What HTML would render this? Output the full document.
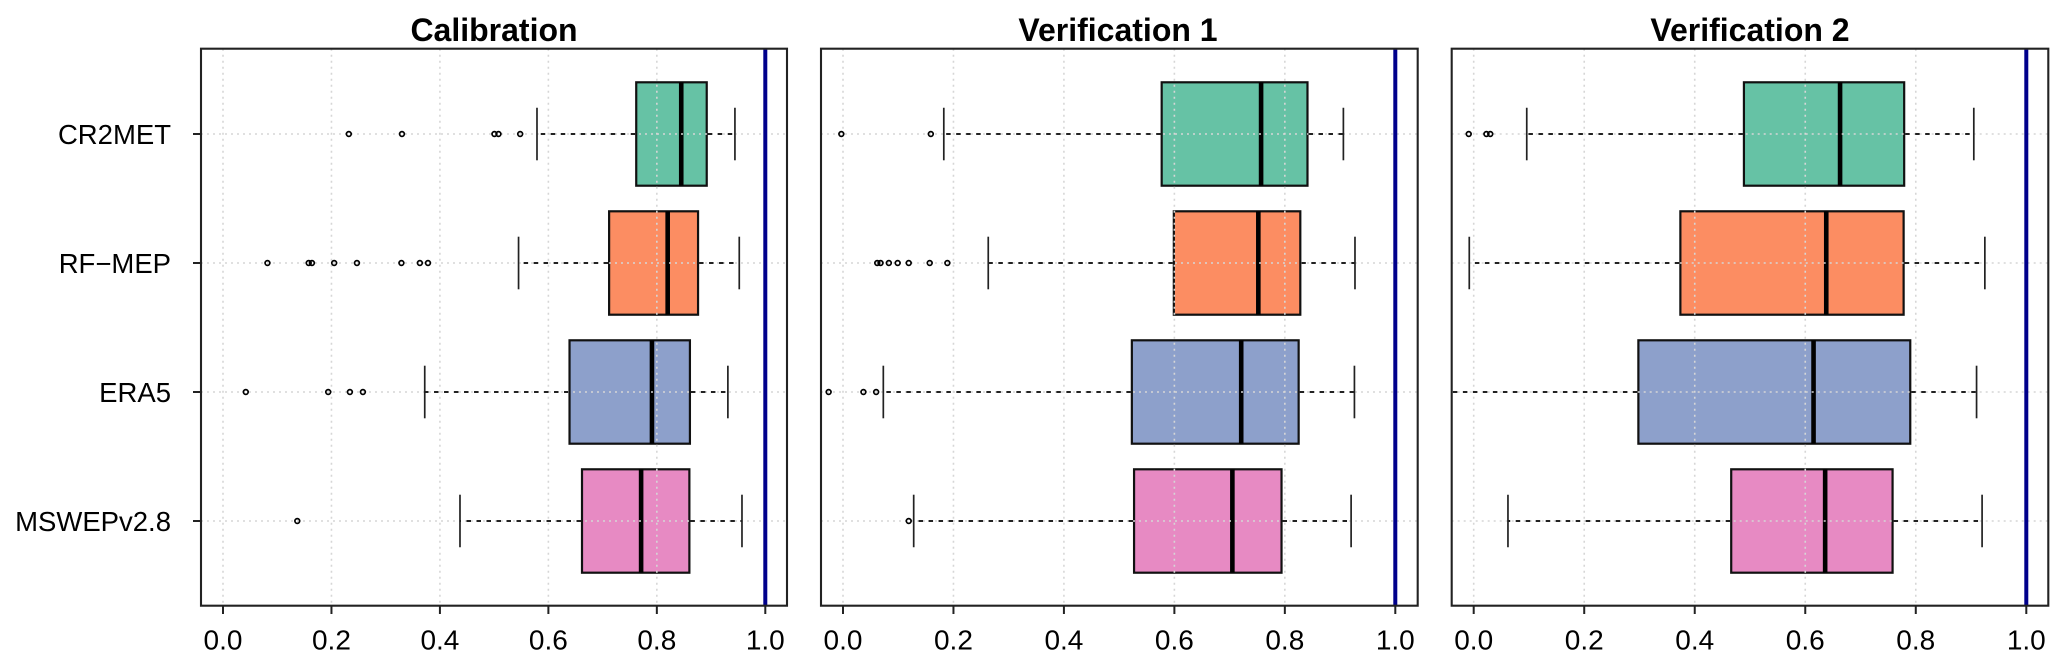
<!DOCTYPE html>
<html lang="en">
<head>
<meta charset="utf-8">
<title>Boxplots: Calibration, Verification 1, Verification 2</title>
<style>
  html, body { margin: 0; padding: 0; background: #fff; }
  body { width: 2067px; height: 667px; overflow: hidden; }
  svg { display: block; font-family: "Liberation Sans", Arial, sans-serif; }
  .title { font-size: 32px; font-weight: bold; text-anchor: middle; fill: #000; }
  .tick-label { font-size: 28px; fill: #000; }
  .category-label { font-size: 27.5px; fill: #000; }
</style>
</head>
<body>
<svg id="chart" xmlns="http://www.w3.org/2000/svg" width="2067" height="667" viewBox="0 0 2067 667">
  <rect x="0" y="0" width="2067" height="667" fill="#ffffff"/>
  <text class="title" x="494" y="41">Calibration</text>
  <text class="title" x="1118" y="41">Verification 1</text>
  <text class="title" x="1750" y="41">Verification 2</text>
</svg>
<script>
// ---- Data ----
const categories = ["CR2MET", "RF\u2212MEP", "ERA5", "MSWEPv2.8"];
const categoryColors = ["#66C2A5", "#FC8D62", "#8DA0CB", "#E78AC3"];
const xTicks = [0, 0.2, 0.4, 0.6, 0.8, 1.0];
const xTickLabels = ["0.0", "0.2", "0.4", "0.6", "0.8", "1.0"];
const referenceValue = 1.0;

const calWhiskerLow  = [0.579, 0.545, 0.372, 0.437];
const calQ1          = [0.762, 0.712, 0.639, 0.662];
const calMedian      = [0.845, 0.820, 0.791, 0.771];
const calQ3          = [0.892, 0.876, 0.861, 0.860];
const calWhiskerHigh = [0.944, 0.952, 0.931, 0.957];
const calOutliers = [
  [0.232, 0.330, 0.5005, 0.508, 0.548],
  [0.082, 0.158, 0.164, 0.205, 0.247, 0.329, 0.363, 0.378],
  [0.042, 0.194, 0.234, 0.258],
  [0.137]
];

const ver1WhiskerLow  = [0.1825, 0.263, 0.073, 0.128];
const ver1Q1          = [0.577, 0.599, 0.523, 0.527];
const ver1Median      = [0.757, 0.752, 0.721, 0.705];
const ver1Q3          = [0.841, 0.828, 0.825, 0.794];
const ver1WhiskerHigh = [0.906, 0.927, 0.926, 0.920];
const ver1Outliers = [
  [-0.003, 0.159],
  [0.062, 0.068, 0.083, 0.099, 0.119, 0.157, 0.189],
  [-0.026, 0.037, 0.060],
  [0.119]
];

const ver2WhiskerLow  = [0.096, -0.008, -0.05, 0.062];
const ver2Q1          = [0.489, 0.374, 0.298, 0.466];
const ver2Median      = [0.663, 0.638, 0.615, 0.636];
const ver2Q3          = [0.779, 0.778, 0.790, 0.758];
const ver2WhiskerHigh = [0.905, 0.925, 0.910, 0.920];
const ver2Outliers = [
  [-0.009, 0.023, 0.030],
  [],
  [],
  []
];

// ---- Rendering ----
const svg = document.getElementById('chart');
const NS = 'http://www.w3.org/2000/svg';

function make(tag, attrs, parent) {
  const el = document.createElementNS(NS, tag);
  for (const k in attrs) el.setAttribute(k, attrs[k]);
  (parent || svg).appendChild(el);
  return el;
}

const plotTop = 48.7;
const plotBottom = 605.7;
const firstRowY = 134;
const rowStep = 129;
const boxHalf = 51.7;
const capHalf = 26.3;

function yScale(i) { return firstRowY + rowStep * i; }

function makeXScale(frame) {
  return function (v) { return frame.zero + (frame.one - frame.zero) * v; };
}

function drawPanel(key, frame, wl, q1, med, q3, wh, outliers, showYAxis) {
  const x = makeXScale(frame);

  const clip = make('clipPath', { id: 'clip-' + key });
  make('rect', { x: frame.left, y: plotTop, width: frame.right - frame.left, height: plotBottom - plotTop }, clip);

  const g = make('g', { 'clip-path': 'url(#clip-' + key + ')' });
  
  

  // boxes and medians first, so the dotted grid sits over them
  categories.forEach(function (cat, i) {
    const y = yScale(i);
    const slug = cat.toLowerCase().replace(/[^a-z0-9]+/g, '-');

    const box = make('rect', { x: x(q1[i]), y: y - boxHalf, width: x(q3[i]) - x(q1[i]), height: boxHalf * 2, fill: categoryColors[i], stroke: '#111', 'stroke-width': 2.2 }, g);
    
    

    const median = make('line', { x1: x(med[i]), x2: x(med[i]), y1: y - boxHalf, y2: y + boxHalf, stroke: '#000', 'stroke-width': 4.6 }, g);
    
    
  });

  xTicks.slice(0, 5).forEach(function (t) {
    const gl = make('line', { x1: x(t), x2: x(t), y1: plotTop, y2: plotBottom, stroke: '#d6d6d6', 'stroke-width': 1.6, 'stroke-dasharray': '2 4' }, g);
    
    
  });
  categories.forEach(function (cat, i) {
    const gl = make('line', { x1: frame.left, x2: frame.right, y1: yScale(i), y2: yScale(i), stroke: '#d6d6d6', 'stroke-width': 1.6, 'stroke-dasharray': '2 4' }, g);
    
    
  });

  // whiskers, caps and outliers stay dark on top of the grid
  categories.forEach(function (cat, i) {
    const y = yScale(i);
    const slug = cat.toLowerCase().replace(/[^a-z0-9]+/g, '-');

    const whiskerLeft = make('line', { x1: x(q1[i]) - 1, x2: x(wl[i]), y1: y, y2: y, stroke: '#222', 'stroke-width': 1.9, 'stroke-dasharray': '4.5 5.5' }, g);
    
    

    const whiskerRight = make('line', { x1: x(q3[i]) + 1, x2: x(wh[i]), y1: y, y2: y, stroke: '#222', 'stroke-width': 1.9, 'stroke-dasharray': '4.5 5.5' }, g);
    
    

    const capLow = make('line', { x1: x(wl[i]), x2: x(wl[i]), y1: y - capHalf, y2: y + capHalf, stroke: '#222', 'stroke-width': 1.7 }, g);
    
    

    const capHigh = make('line', { x1: x(wh[i]), x2: x(wh[i]), y1: y - capHalf, y2: y + capHalf, stroke: '#222', 'stroke-width': 1.7 }, g);
    
    

    outliers[i].forEach(function (v) {
      const pt = make('circle', { cx: x(v), cy: y, r: 2.4, fill: 'none', stroke: '#000', 'stroke-width': 1.7 }, g);
      
      
    });
  });

  const ref = make('line', { x1: x(referenceValue), x2: x(referenceValue), y1: plotTop, y2: plotBottom, stroke: '#00008B', 'stroke-width': 4 });
  
  

  const border = make('rect', { x: frame.left, y: plotTop, width: frame.right - frame.left, height: plotBottom - plotTop, fill: 'none', stroke: '#222', 'stroke-width': 2.1 });
  
  

  xTicks.forEach(function (t, i) {
    const tick = make('line', { x1: x(t), x2: x(t), y1: plotBottom, y2: 614, stroke: '#222', 'stroke-width': 2 });
    
    

    const label = make('text', { x: x(t), y: 649.5, 'text-anchor': 'middle', class: 'tick-label' });
    label.textContent = xTickLabels[i];
    
    
  });

  if (showYAxis) {
    categories.forEach(function (cat, i) {
      const tick = make('line', { x1: 193, x2: frame.left, y1: yScale(i), y2: yScale(i), stroke: '#222', 'stroke-width': 2 });
      
      

      const label = make('text', { x: 171, y: yScale(i) + 9.8, 'text-anchor': 'end', class: 'category-label' });
      label.textContent = cat;
      
      
    });
  }
}

drawPanel('calibration', { left: 201, right: 787, zero: 223, one: 765.3 },
  calWhiskerLow, calQ1, calMedian, calQ3, calWhiskerHigh, calOutliers, true);
drawPanel('verification-1', { left: 821, right: 1417.7, zero: 843, one: 1395.3 },
  ver1WhiskerLow, ver1Q1, ver1Median, ver1Q3, ver1WhiskerHigh, ver1Outliers, false);
drawPanel('verification-2', { left: 1451.7, right: 2048.3, zero: 1473.7, one: 2026.3 },
  ver2WhiskerLow, ver2Q1, ver2Median, ver2Q3, ver2WhiskerHigh, ver2Outliers, false);
</script>
</body>
</html>
